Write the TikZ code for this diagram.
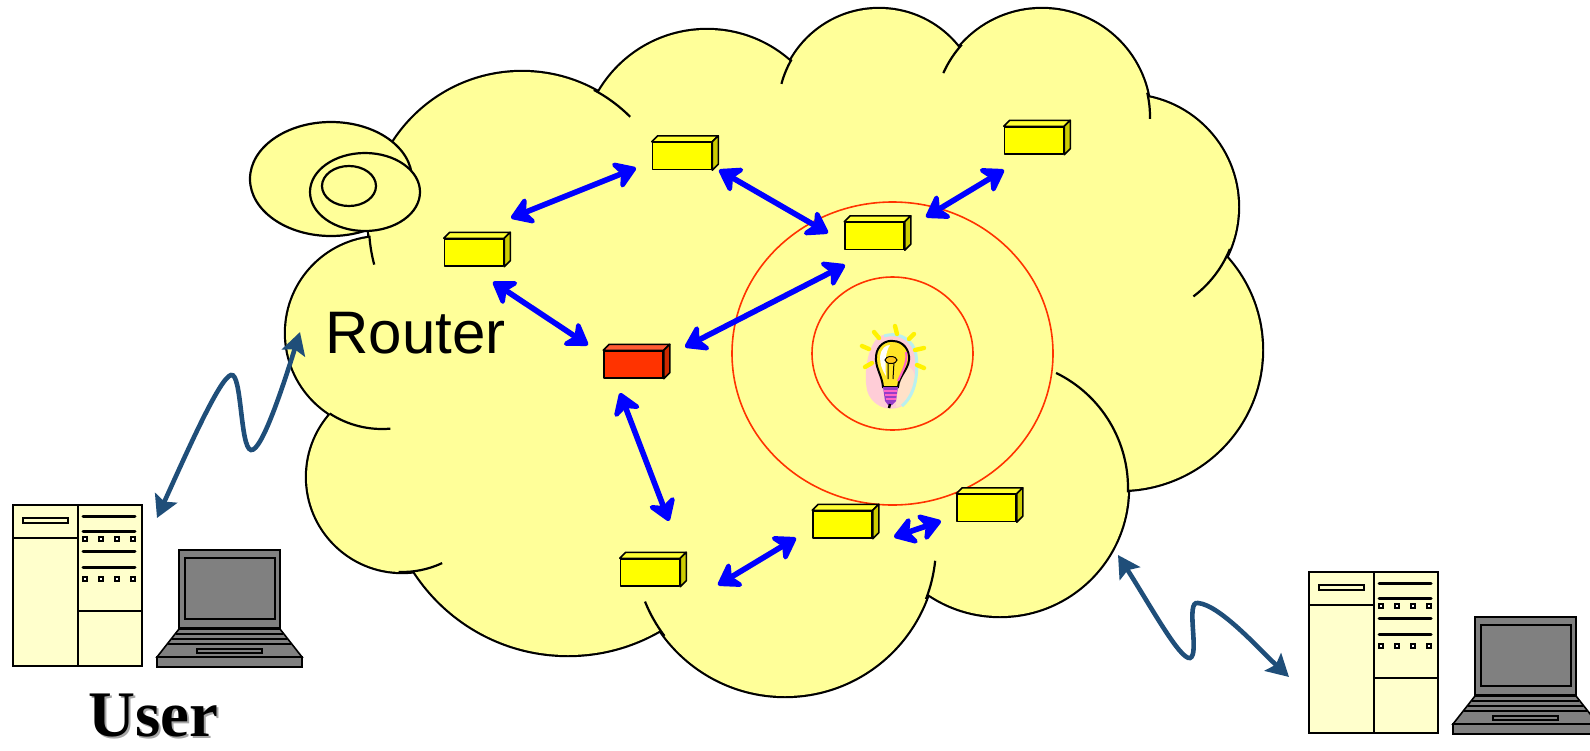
\documentclass[tikz,border=0pt]{standalone}
\usepackage{fontspec}
\setmainfont{Liberation Serif}
\newfontfamily\labelsans{Liberation Sans}
\usetikzlibrary{arrows.meta}
\definecolor{cloudfill}{RGB}{255,255,153}
\definecolor{towerfill}{RGB}{255,255,204}
\definecolor{boxyellow}{RGB}{255,255,0}
\definecolor{boxred}{RGB}{255,51,0}
\definecolor{rangered}{RGB}{255,51,0}
\definecolor{linkblue}{RGB}{0,0,255}
\definecolor{radioblue}{RGB}{31,78,121}
\definecolor{laptopgray}{RGB}{128,128,128}
\definecolor{halopink}{RGB}{255,205,215}
\definecolor{halopeach}{RGB}{255,225,200}
\definecolor{halocyan}{RGB}{185,240,240}
\definecolor{bulbglass}{RGB}{255,230,40}
\definecolor{bulbbase}{RGB}{150,60,200}
\definecolor{bulbstripe}{RGB}{255,100,200}

\tikzset{
  linkhead/.tip={Stealth[length=13pt,width=17pt,inset=4pt,round]},
  radiohead/.tip={Stealth[length=11pt,width=12pt,inset=2pt]}
}

% lobes of the cloud (pixel units, y pointing down)
\newcommand\cloudlobes{%
  (522,225) circle[radius=153]
  (707,155) circle[radius=125]
  (879,110) circle[radius=101]
  (1042,117) circle[radius=108]
  (1126,207) circle[radius=112]
  (1120,350) ellipse[x radius=142,y radius=140]
  (1000,488) circle[radius=128]
  (785,545) circle[radius=151]
  (568,472) circle[radius=183]
  (402,477) circle[radius=95]
  (382,333) circle[radius=96]}

% one 3-D box: name, centre x, centre y, colour
\newcommand\netbox[4]{%
  \node[boxfront, fill=#4] (#1) at (#2,#3) {};
  \filldraw[boxline, fill=#4!80!white] (#1.north west) -- ++(6,-6)
    -- ([shift={(6,-6)}]#1.north east) -- (#1.north east) -- cycle;
  \filldraw[boxline, fill=#4!80!black] (#1.north east) -- ++(6,-6)
    -- ([shift={(6,-6)}]#1.south east) -- (#1.south east) -- cycle;
}

\begin{document}
\begin{tikzpicture}[x=0.5pt,y=-0.5pt,
  cloudline/.style={line width=1.1pt, black},
  boxline/.style={line width=0.75pt, black, line join=round},
  boxfront/.style={draw, boxline, rectangle, minimum width=29.5pt,
    minimum height=13.5pt, inner sep=0pt},
  link/.style={linkblue, line width=2.8pt, linkhead-linkhead},
  radio/.style={radioblue, line width=2.3pt, radiohead-radiohead},
  rangeline/.style={rangered, line width=0.8pt},
  devline/.style={line width=0.8pt, black},
  computer/.pic={
    % tower
    \draw[devline, fill=towerfill] (13,505) rectangle (142,666);
    \draw[devline] (78,505) -- (78,666) (13,538) -- (78,538) (78,611) -- (142,611);
    \draw[devline, fill=towerfill] (23,518) rectangle (68,523);
    \foreach \yy in {516,531,551,567}
      \draw[line width=1.5pt, line cap=round] (83,\yy) -- (135,\yy);
    \foreach \yy in {539,579}
      \foreach \xx in {85,101,117,133}
        \draw[line width=0.7pt, fill=white] (\xx-2,\yy-2) rectangle (\xx+2,\yy+2);
    % laptop
    \draw[devline, fill=laptopgray] (179,550) rectangle (280,628);
    \draw[devline, fill=laptopgray] (185,558) rectangle (275,619);
    \draw[devline, fill=laptopgray] (179,629) -- (280,629) -- (302,657) -- (157,657) -- cycle;
    \draw[devline, fill=laptopgray] (157,657) rectangle (302,667);
    \draw[line width=0.6pt] (176,634) -- (283,634) (172,639) -- (287,639) (168,644) -- (291,644);
    \draw[devline, fill=laptopgray] (197,649) rectangle (262,653);
  }]
\useasboundingbox (0,0) rectangle (1590,750);

% ---- cloud: doubled stroke, then fill, leaves only the outer edge
\draw[line width=2.2pt, black] \cloudlobes;
\fill[cloudfill] \cloudlobes;
\fill[cloudfill] (522,225) -- (707,155) -- (879,110) -- (1042,117) -- (1126,207)
  -- (1120,350) -- (1000,488) -- (785,545) -- (568,472) -- (402,477) -- (382,333) -- cycle;
% inner arcs of the cloud
\draw[cloudline] ([shift={(176:153)}]522,225) arc[start angle=176,end angle=165,radius=153];
\draw[cloudline] ([shift={(-62:153)}]522,225) arc[start angle=-62,end angle=-45,radius=153];
\draw[cloudline] ([shift={(123:96)}]382,333) arc[start angle=123,end angle=85,radius=96];
\draw[cloudline] ([shift={(92:95)}]402,477) arc[start angle=92,end angle=65,radius=95];
\draw[cloudline] ([shift={(143:151)}]785,545) arc[start angle=143,end angle=158,radius=151];
\draw[cloudline] ([shift={(21:151)}]785,545) arc[start angle=21,end angle=6,radius=151];
\draw[cloudline] ([shift={(2:128)}]1000,488) arc[start angle=2,end angle=-64,radius=128];
\draw[cloudline] ([shift={(22:112)}]1126,207) arc[start angle=22,end angle=53,radius=112];
\draw[cloudline] ([shift={(-13:108)}]1042,117) arc[start angle=-13,end angle=1,radius=108];
\draw[cloudline] ([shift={(222:108)}]1042,117) arc[start angle=222,end angle=204,radius=108];
\draw[cloudline] ([shift={(210:101)}]879,110) arc[start angle=210,end angle=195,radius=101];

% small puffs at the upper left
\draw[cloudline, fill=cloudfill] (331,179) ellipse[x radius=81,y radius=57];
\draw[cloudline, fill=cloudfill] (365,192) ellipse[x radius=55,y radius=39];
\draw[cloudline] (349,186) ellipse[x radius=27,y radius=20];

% ---- coverage rings
\draw[rangeline] (892.5,353.5) ellipse[x radius=160.5,y radius=151.5];
\draw[rangeline] (892.5,353.5) ellipse[x radius=80.5,y radius=76.5];

% ---- light bulb
\fill[halopink] (880,336) .. controls (869,343) and (863,370) .. (867,390)
  .. controls (871,406) and (888,412) .. (900,407)
  .. controls (916,401) and (919,375) .. (916,355)
  .. controls (913,339) and (895,331) .. cycle;
\fill[halopeach] (898,366) .. controls (908,362) and (917,370) .. (915,384)
  .. controls (913,398) and (905,406) .. (896,407) -- cycle;
\draw[halocyan, line width=1.5pt] (884,336) .. controls (900,331) and (914,341) .. (916,355)
  .. controls (918,370) and (917,393) .. (902,406);
\foreach \ax/\ay/\bx/\by in {895/326/897/334, 874/332/879/338, 909/339/914/334,
    862/346/869/349, 915/350/924/348, 865/367/872/363, 917/365/924/368}
  \draw[yellow, line width=2.2pt, line cap=round] (\ax,\ay) -- (\bx,\by);
\draw[black, line width=1pt, fill=bulbglass] (883,387) .. controls (882,375) and (875,368) .. (876,356)
  .. controls (877,345) and (886,340) .. (893,341)
  .. controls (903,341) and (910,350) .. (909,360)
  .. controls (908,370) and (899,376) .. (898,387) -- cycle;
\fill[white] (880,357) .. controls (881,348) and (886,345) .. (890,345)
  .. controls (885,352) and (885,365) .. (886,376) .. controls (882,370) and (880,364) .. cycle;
\draw[bulbstripe, line width=1pt] (906,352) .. controls (908,362) and (902,372) .. (898,381);
\draw[black, line width=0.5pt] (888,379) -- (888,362) (893,379) -- (894,362);
\draw[black, line width=0.5pt, fill=bulbglass!70!orange] (891,360) ellipse[x radius=6,y radius=3.5];
\fill[bulbbase] (883,387) -- (898,387) -- (896,401) -- (892,405) -- (888,405) -- (885,401) -- cycle;
\draw[bulbstripe, line width=1pt] (884,391) -- (897,391) (885,395) -- (897,395) (886,399) -- (896,399);
\draw[black, line width=1.2pt] (890,404) -- (889,408);

% ---- routers
\netbox{top}{682}{156}{boxyellow}
\netbox{left}{474}{252.5}{boxyellow}
\netbox{mid}{874.5}{236}{boxyellow}
\netbox{far}{1034}{140.5}{boxyellow}
\netbox{hub}{633.5}{364.5}{boxred}
\netbox{low}{650}{572.5}{boxyellow}
\netbox{lowmid}{842.5}{524.5}{boxyellow}
\netbox{lowright}{986.5}{508}{boxyellow}

% ---- links between routers
\draw[link] ([shift={(37,-34.5)}]left.center) -- ([shift={(-46,12)}]top.center);
\draw[link] ([shift={(37,14)}]top.center) -- ([shift={(-46.5,-3)}]mid.center);
\draw[link] ([shift={(19,29.5)}]left.center) -- ([shift={(-45.5,-19.5)}]hub.center);
\draw[link] ([shift={(51.5,-17.5)}]hub.center) -- ([shift={(-29.5,29)}]mid.center);
\draw[link] ([shift={(51.5,-19)}]mid.center) -- ([shift={(-30,29.5)}]far.center);
\draw[link] ([shift={(-13.5,28.5)}]hub.center) -- ([shift={(19,-51.5)}]low.center);
\draw[link] ([shift={(68,12.5)}]low.center) -- ([shift={(-46.5,13.5)}]lowmid.center);
\draw[link] ([shift={(51.5,12.5)}]lowmid.center) -- ([shift={(-45.5,13)}]lowright.center);

% ---- user machines
\pic at (0,0) {computer};
\pic at (1296,67) {computer};

% ---- radio links
\coordinate (userL) at (157,518);
\coordinate (cloudL) at (300,332);
\coordinate (cloudR) at (1118,555);
\coordinate (userR) at (1289,677);
\draw[radio] (userL) .. controls (190,445) and (220,378) .. (231,375)
  .. controls (242,372) and (240,448) .. (251,450)
  .. controls (262,452) and (285,380) .. (cloudL);
\draw[radio] (cloudR) .. controls (1150,605) and (1180,660) .. (1190,658)
  .. controls (1200,655) and (1185,600) .. (1198,603)
  .. controls (1220,605) and (1260,650) .. (userR);

% ---- labels
\node[anchor=base west, inner sep=0pt, font=\labelsans\fontsize{30pt}{36pt}\selectfont] (router) at (325,353) {Router};
\node[anchor=base west, inner sep=0pt, text=gray!70, font=\bfseries\fontsize{32.5pt}{38pt}\selectfont] (usershadow) at (90,738) {User};
\node[anchor=base west, inner sep=0pt, font=\bfseries\fontsize{32.5pt}{38pt}\selectfont] (user) at (88,736) {User};
\end{tikzpicture}
\end{document}
